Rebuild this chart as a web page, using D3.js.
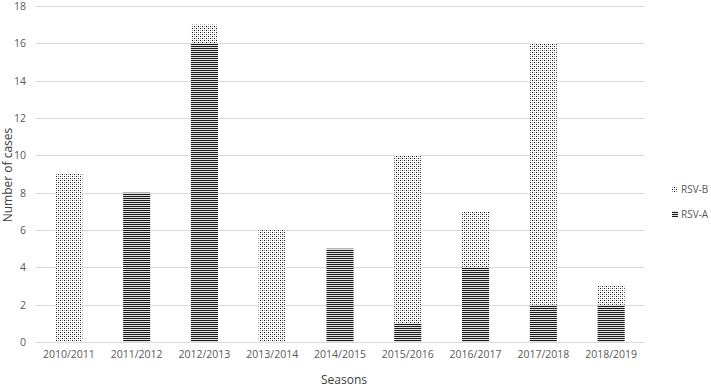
<!DOCTYPE html>
<html>
<head>
<meta charset="utf-8">
<script src="https://cdn.jsdelivr.net/npm/d3@7"></script>
<style>
  body { margin: 0; background: #fff; }
  text { font-family: "Open Sans", "DejaVu Sans", sans-serif; }
</style>
</head>
<body>
<svg id="chart" width="711" height="387"></svg>
<script>
// data
var seasons = ["2010/2011", "2011/2012", "2012/2013", "2013/2014", "2014/2015",
               "2015/2016", "2016/2017", "2017/2018", "2018/2019"];
var rsvA = [0, 8, 16, 0, 5, 1, 4, 2, 2];
var rsvB = [9, 0, 1, 6, 0, 9, 3, 14, 1];
var yTicks = [0, 2, 4, 6, 8, 10, 12, 14, 16, 18];
var seriesNames = ["RSV-A", "RSV-B"];

var svg = d3.select("#chart");
// plot area (note: "top" is taken by window.top, so prefix these)
var plotLeft = 35, plotRight = 645, plotTop = 6, plotBottom = 342;

// PATTERNS
var defs = svg.append("defs");
var dots = defs.append("pattern")
    .attr("id", "dots")
    .attr("patternUnits", "userSpaceOnUse")
    .attr("width", 4).attr("height", 4);
dots.append("rect").attr("width", 4).attr("height", 4).attr("fill", "#fff");
dots.append("rect").attr("x", 0).attr("y", 0).attr("width", 1).attr("height", 1).attr("fill", "#111");
dots.append("rect").attr("x", 2).attr("y", 2).attr("width", 1).attr("height", 1).attr("fill", "#111");
dots.append("rect").attr("x", 2).attr("y", 0).attr("width", 1).attr("height", 1).attr("fill", "#999");
dots.append("rect").attr("x", 0).attr("y", 2).attr("width", 1).attr("height", 1).attr("fill", "#999");

var lines = defs.append("pattern")
    .attr("id", "lines")
    .attr("patternUnits", "userSpaceOnUse")
    .attr("width", 4).attr("height", 2);
lines.append("rect").attr("width", 4).attr("height", 2).attr("fill", "#e0e0e0");
lines.append("rect").attr("width", 4).attr("height", 1).attr("fill", "#1a1a1a");

// SCALES
var x = d3.scaleBand().domain(seasons).range([plotLeft, plotRight]).paddingInner(0.6).paddingOuter(0.3);
var y = d3.scaleLinear().domain([0, 18]).range([plotBottom, plotTop]);

// GRID
svg.append("g").selectAll("line")
    .data(yTicks)
    .join("line")
    .attr("x1", plotLeft).attr("x2", plotRight)
    .attr("y1", d => Math.round(y(d)) + 0.5).attr("y2", d => Math.round(y(d)) + 0.5)
    .attr("stroke", "#d9d9d9").attr("stroke-width", 1);

// Y AXIS LABELS
svg.append("g").selectAll("text")
    .data(yTicks)
    .join("text")
    .attr("x", 26).attr("y", d => y(d) + 4)
    .attr("text-anchor", "end")
    .attr("font-size", 10.5).attr("fill", "#595959")
    .text(d => d);

// STACKED BARS
var table = seasons.map((s, i) => ({season: s, "RSV-A": rsvA[i], "RSV-B": rsvB[i]}));
var stacked = d3.stack().keys(seriesNames)(table);
var fills = {"RSV-A": "url(#lines)", "RSV-B": "url(#dots)"};

svg.append("g").selectAll("g")
    .data(stacked)
    .join("g")
    .attr("fill", d => fills[d.key])
    .selectAll("rect")
    .data(d => d.filter(p => p[1] > p[0]))
    .join("rect")
    .attr("x", d => x(d.data.season))
    .attr("width", x.bandwidth())
    .attr("y", d => y(d[1]))
    .attr("height", d => y(d[0]) - y(d[1]));

// X AXIS
svg.append("line")
    .attr("x1", plotLeft).attr("x2", plotRight)
    .attr("y1", plotBottom + 0.5).attr("y2", plotBottom + 0.5)
    .attr("stroke", "#d9d9d9");

svg.append("g").selectAll("text")
    .data(seasons)
    .join("text")
    .attr("x", d => x(d) + x.bandwidth() / 2)
    .attr("y", 358)
    .attr("text-anchor", "middle")
    .attr("font-size", 10.5).attr("fill", "#595959")
    .text(d => d);

// TITLES
svg.append("text")
    .attr("x", 344).attr("y", 384)
    .attr("text-anchor", "middle")
    .attr("font-size", 12).attr("fill", "#404040")
    .text("Seasons");

svg.append("text")
    .attr("transform", "translate(12,175) rotate(-90)")
    .attr("text-anchor", "middle")
    .attr("font-size", 12).attr("fill", "#404040")
    .text("Number of cases");

// LEGEND
var legend = svg.append("g").selectAll("g")
    .data(["RSV-B", "RSV-A"])
    .join("g")
    .attr("transform", (d, i) => "translate(672," + (189 + i * 25) + ")");
legend.append("rect")
    .attr("x", 0).attr("y", -3).attr("width", 6).attr("height", 6)
    .attr("fill", d => fills[d]);
legend.append("text")
    .attr("x", 9).attr("y", 4)
    .attr("font-size", 10).attr("fill", "#595959")
    .text(d => d);
</script>
</body>
</html>
